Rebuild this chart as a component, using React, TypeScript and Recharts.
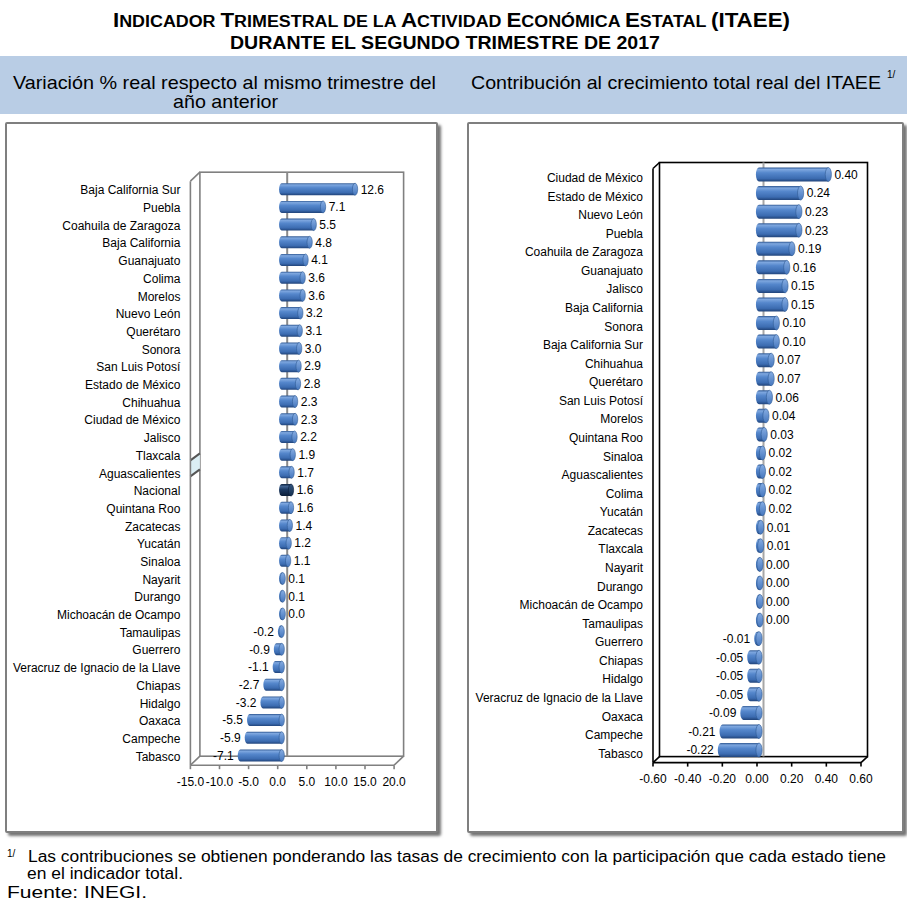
import { BarChart, Bar, XAxis, YAxis, ReferenceArea } from 'recharts'

// Variación % real respecto al mismo trimestre del año anterior
const estadosVariacion = [
  'Baja California Sur', 'Puebla', 'Coahuila de Zaragoza', 'Baja California', 'Guanajuato',
  'Colima', 'Morelos', 'Nuevo León', 'Querétaro', 'Sonora', 'San Luis Potosí',
  'Estado de México', 'Chihuahua', 'Ciudad de México', 'Jalisco', 'Tlaxcala',
  'Aguascalientes', 'Nacional', 'Quintana Roo', 'Zacatecas', 'Yucatán', 'Sinaloa',
  'Nayarit', 'Durango', 'Michoacán de Ocampo', 'Tamaulipas', 'Guerrero',
  'Veracruz de Ignacio de la Llave', 'Chiapas', 'Hidalgo', 'Oaxaca', 'Campeche', 'Tabasco',
]
const variacion = [
  12.6, 7.1, 5.5, 4.8, 4.1, 3.6, 3.6, 3.2, 3.1, 3.0, 2.9, 2.8, 2.3, 2.3, 2.2, 1.9,
  1.7, 1.6, 1.6, 1.4, 1.2, 1.1, 0.1, 0.1, 0.0, -0.2, -0.9, -1.1, -2.7, -3.2, -5.5, -5.9, -7.1,
]
const ticksVariacion = [-15, -10, -5, 0, 5, 10, 15, 20]

// Contribución al crecimiento total real del ITAEE
const estadosContribucion = [
  'Ciudad de México', 'Estado de México', 'Nuevo León', 'Puebla', 'Coahuila de Zaragoza',
  'Guanajuato', 'Jalisco', 'Baja California', 'Sonora', 'Baja California Sur', 'Chihuahua',
  'Querétaro', 'San Luis Potosí', 'Morelos', 'Quintana Roo', 'Sinaloa', 'Aguascalientes',
  'Colima', 'Yucatán', 'Zacatecas', 'Tlaxcala', 'Nayarit', 'Durango', 'Michoacán de Ocampo',
  'Tamaulipas', 'Guerrero', 'Chiapas', 'Hidalgo', 'Veracruz de Ignacio de la Llave',
  'Oaxaca', 'Campeche', 'Tabasco',
]
const contribucion = [
  0.40, 0.24, 0.23, 0.23, 0.19, 0.16, 0.15, 0.15, 0.10, 0.10, 0.07, 0.07, 0.06, 0.04,
  0.03, 0.02, 0.02, 0.02, 0.02, 0.01, 0.01, 0.00, 0.00, 0.00, 0.00, -0.01, -0.05, -0.05,
  -0.05, -0.09, -0.21, -0.22,
]
const ticksContribucion = [-0.6, -0.4, -0.2, 0, 0.2, 0.4, 0.6]

const destacado = 'Nacional'

const dataVariacion = estadosVariacion.map((estado, i) => ({ estado, valor: variacion[i] }))
const dataContribucion = estadosContribucion.map((estado, i) => ({ estado, valor: contribucion[i] }))

const FONT = '"Liberation Sans", Arial, sans-serif'

const radioX = (h: number) => Math.max(2, h * 0.22)

// barra cilíndrica tipo Excel 3D
function Cilindro(props: any) {
  const { x, y, width, height, payload, shiftX = 0, shiftY = 0 } = props
  if (x == null || y == null) return null
  const left = Math.min(x, x + width) + shiftX
  const right = Math.max(x, x + width) + shiftX
  const top = y + shiftY
  const h = height
  const ry = h / 2
  const rx = radioX(h)
  const dark = payload && payload.estado === destacado
  return (
    <g>
      <path
        d={`M${right},${top} L${left},${top} A${rx},${ry} 0 0 0 ${left},${top + h} L${right},${top + h} Z`}
        fill={dark ? 'url(#cilNavy)' : 'url(#cilAzul)'}
      />
      <ellipse
        cx={right}
        cy={top + ry}
        rx={rx}
        ry={ry}
        fill={dark ? 'url(#tapaNavy)' : 'url(#tapaAzul)'}
        stroke={dark ? '#0c1f3a' : '#2f5a93'}
        strokeWidth={0.6}
      />
    </g>
  )
}

const etiqueta = (fmt: (v: number) => string, shiftX: number, shiftY: number) => (p: any) => {
  const vb = p.viewBox && p.viewBox.width !== undefined ? p.viewBox : p
  const { x, y, width, height } = vb
  const value = Number(p.value)
  const left = Math.min(x, x + width) + shiftX
  const right = Math.max(x, x + width) + shiftX
  const cy = y + height / 2 + shiftY
  const rx = radioX(height)
  const neg = value < 0
  return (
    <text
      x={neg ? left - rx - 4 : right + rx + 3}
      y={cy}
      dy="0.36em"
      textAnchor={neg ? 'end' : 'start'}
      fontSize={12}
      fill="#000"
      fontFamily={FONT}
    >
      {fmt(value)}
    </text>
  )
}

const tickEstado = (p: any) => (
  <text x={p.x} y={p.y} dy="0.36em" textAnchor="end" fontSize={12} fill="#000" fontFamily={FONT}>
    {p.payload.value}
  </text>
)

// caja 3D del área de trazado
const caja = (dx: number, dy: number, color: string, corte: boolean) => (p: any) => {
  const { x, y, width, height } = p
  const l = x, r = x + width, t = y, b = y + height
  const yc = t + height * 0.478
  return (
    <g fill="none" stroke={color} strokeWidth={1.6}>
      <rect x={l + dx} y={t + dy} width={width} height={height} />
      <line x1={l} y1={t} x2={l + dx} y2={t + dy} />
      <line x1={l} y1={b} x2={l + dx} y2={b + dy} />
      <line x1={r} y1={b} x2={r + dx} y2={b + dy} />
      {corte && (
        <g>
          <polygon points={`${l},${yc} ${l + dx},${yc - 7} ${l + dx},${yc + 9} ${l},${yc + 16}`} fill="#dbeef4" stroke="none" />
          <line x1={l} y1={yc} x2={l + dx} y2={yc - 7} stroke="#555" strokeWidth={2} />
          <line x1={l} y1={yc + 16} x2={l + dx} y2={yc + 9} stroke="#555" strokeWidth={2} />
        </g>
      )}
    </g>
  )
}

const lineaCero = (dx: number, dy: number, color: string) => (p: any) => {
  const { x, y, height } = p
  return <line x1={x + dx} y1={y + dy} x2={x + dx} y2={y + height + dy} stroke={color} strokeWidth={2} />
}

function Grafica(props: {
  data: { estado: string; valor: number }[]
  ticks: number[]
  fmt: (v: number) => string
  margin: { top: number; right: number; bottom: number; left: number }
  yWidth: number
  barSize: number
  color: string
  dx: number
  dy: number
  shiftX: number
  shiftY: number
  zeroColor: string
  corte: boolean
}) {
  const { data, ticks, fmt, margin, yWidth, barSize, color, dx, dy, shiftX, shiftY, zeroColor, corte } = props
  const min = ticks[0]
  const max = ticks[ticks.length - 1]
  return (
    <BarChart width={430} height={705} data={data} layout="vertical" margin={margin}>
      <ReferenceArea x1={min} x2={max} shape={caja(dx, dy, color, corte)} ifOverflow="visible" />
      <ReferenceArea x1={0} x2={max} shape={lineaCero(dx, dy, zeroColor)} ifOverflow="visible" />
      <XAxis
        type="number"
        domain={[min, max]}
        ticks={ticks}
        interval={0}
        tickFormatter={fmt}
        stroke={color}
        strokeWidth={1.6}
        tickSize={4}
        tickMargin={8}
        height={30}
        tick={{ fontSize: 12, fill: '#000', fontFamily: FONT }}
      />
      <YAxis
        type="category"
        dataKey="estado"
        width={yWidth}
        interval={0}
        tickLine={false}
        tickSize={0}
        tickMargin={10}
        stroke={color}
        strokeWidth={1.6}
        tick={tickEstado}
      />
      <Bar
        dataKey="valor"
        barSize={barSize}
        minPointSize={1}
        isAnimationActive={false}
        shape={(p: any) => <Cilindro {...p} shiftX={shiftX} shiftY={shiftY} />}
        label={etiqueta(fmt, shiftX, shiftY)}
      />
    </BarChart>
  )
}

const panel = (left: number, width: number): React.CSSProperties => ({
  position: 'absolute',
  left,
  top: 122,
  width,
  height: 711,
  boxSizing: 'border-box',
  border: '2px solid #7f7f7f',
  borderRadius: 2,
  boxShadow: '3px 3px 3px rgba(0,0,0,0.55)',
  background: '#fff',
})

export default function App() {
  return (
    <div style={{ position: 'absolute', left: 0, top: 0, width: 907, height: 908, background: '#fff', fontFamily: FONT, overflow: 'hidden' }}>
      <svg width={0} height={0} style={{ position: 'absolute' }}>
        <defs>
          <linearGradient id="cilAzul" x1="0" y1="0" x2="0" y2="1">
            <stop offset="0" stopColor="#2e5792" />
            <stop offset="0.14" stopColor="#7ea7df" />
            <stop offset="0.38" stopColor="#5587cc" />
            <stop offset="0.78" stopColor="#3c6cb1" />
            <stop offset="1" stopColor="#21447a" />
          </linearGradient>
          <linearGradient id="tapaAzul" x1="0" y1="0" x2="0" y2="1">
            <stop offset="0" stopColor="#86ade3" />
            <stop offset="1" stopColor="#4677bd" />
          </linearGradient>
          <linearGradient id="cilNavy" x1="0" y1="0" x2="0" y2="1">
            <stop offset="0" stopColor="#0f2440" />
            <stop offset="0.2" stopColor="#41628f" />
            <stop offset="0.45" stopColor="#1c3a63" />
            <stop offset="1" stopColor="#0b1d36" />
          </linearGradient>
          <linearGradient id="tapaNavy" x1="0" y1="0" x2="0" y2="1">
            <stop offset="0" stopColor="#35567f" />
            <stop offset="1" stopColor="#14304f" />
          </linearGradient>
        </defs>
      </svg>

      <div style={{ position: 'absolute', left: 0, top: 56, width: 907, height: 58, background: '#b9cde5' }} />
      <div style={panel(5, 433)} />
      <div style={panel(467, 437)} />

      <svg width={907} height={908} style={{ position: 'absolute', left: 0, top: 0 }} fontFamily={FONT}>
        <text x={113} y={27} textLength={677} lengthAdjust="spacingAndGlyphs" fontWeight="bold" fill="#000">
          <tspan fontSize={20}>I</tspan>
          <tspan fontSize={16}>NDICADOR </tspan>
          <tspan fontSize={20}>T</tspan>
          <tspan fontSize={16}>RIMESTRAL DE LA </tspan>
          <tspan fontSize={20}>A</tspan>
          <tspan fontSize={16}>CTIVIDAD </tspan>
          <tspan fontSize={20}>E</tspan>
          <tspan fontSize={16}>CONÓMICA </tspan>
          <tspan fontSize={20}>E</tspan>
          <tspan fontSize={16}>STATAL </tspan>
          <tspan fontSize={20}>(ITAEE)</tspan>
        </text>
        <text x={230} y={49} textLength={430} lengthAdjust="spacingAndGlyphs" fontWeight="bold" fontSize={19} fill="#000">
          DURANTE EL SEGUNDO TRIMESTRE DE 2017
        </text>

        <text x={13} y={89} textLength={423} lengthAdjust="spacingAndGlyphs" fontSize={18.5} fill="#000">
          Variación % real respecto al mismo trimestre del
        </text>
        <text x={173} y={108} textLength={105} lengthAdjust="spacingAndGlyphs" fontSize={18.5} fill="#000">
          año anterior
        </text>
        <text x={471} y={89} textLength={410} lengthAdjust="spacingAndGlyphs" fontSize={18.5} fill="#000">
          Contribución al crecimiento total real del ITAEE
        </text>
        <text x={887} y={78} fontSize={10} fill="#000">1/</text>

        <text x={7} y={857} fontSize={10} fill="#000">1/</text>
        <text x={28} y={862} textLength={858} lengthAdjust="spacingAndGlyphs" fontSize={16} fill="#000">
          Las contribuciones se obtienen ponderando las tasas de crecimiento con la participación que cada estado tiene
        </text>
        <text x={27} y={879} textLength={156} lengthAdjust="spacingAndGlyphs" fontSize={16} fill="#000">
          en el indicador total.
        </text>
        <text x={7} y={898} textLength={140} lengthAdjust="spacingAndGlyphs" fontSize={16} fill="#000">
          Fuente: INEGI.
        </text>
      </svg>

      <div style={{ position: 'absolute', left: 6, top: 124 }}>
        <Grafica
          data={dataVariacion}
          ticks={ticksVariacion}
          fmt={(v) => v.toFixed(1)}
          margin={{ top: 57.2, right: 41.9, bottom: 33.8, left: 0 }}
          yWidth={184.4}
          barSize={12}
          color="#808080"
          dx={9.5}
          dy={-9}
          shiftX={4}
          shiftY={-1}
          zeroColor="#8a8a8a"
          corte={true}
        />
      </div>
      <div style={{ position: 'absolute', left: 470, top: 124 }}>
        <Grafica
          data={dataContribucion}
          ticks={ticksContribucion}
          fmt={(v) => v.toFixed(2)}
          margin={{ top: 44.5, right: 39, bottom: 36.4, left: 0 }}
          yWidth={183}
          barSize={14}
          color="#000"
          dx={6.5}
          dy={-6}
          shiftX={2}
          shiftY={-3}
          zeroColor="#a6a6a6"
          corte={false}
        />
      </div>
    </div>
  )
}
